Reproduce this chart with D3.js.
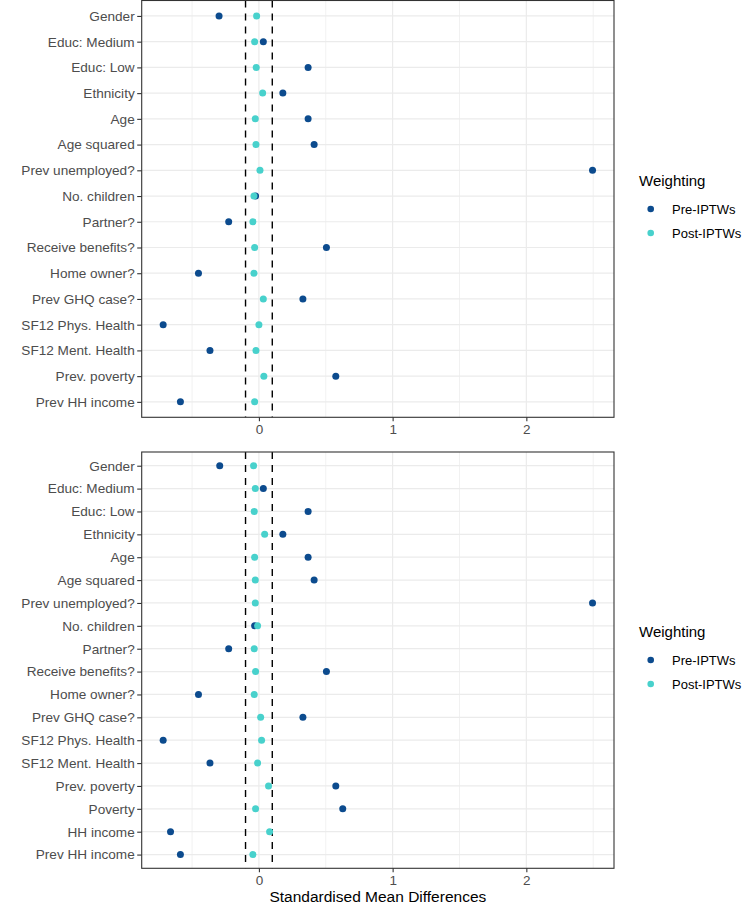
<!DOCTYPE html>
<html>
<head>
<meta charset="utf-8">
<script src="https://cdn.jsdelivr.net/npm/d3@7"></script>
<style>
  html, body { margin: 0; padding: 0; background: #ffffff; }
  svg { display: block; font-family: "Liberation Sans", Arial, sans-serif; }
</style>
</head>
<body>
<svg id="chart" width="756" height="904"></svg>
<script>
// ---------------- DATA ----------------
const categoriesTop = ["Gender", "Educ: Medium", "Educ: Low", "Ethnicity", "Age", "Age squared",
  "Prev unemployed?", "No. children", "Partner?", "Receive benefits?", "Home owner?",
  "Prev GHQ case?", "SF12 Phys. Health", "SF12 Ment. Health", "Prev. poverty", "Prev HH income"];
const preTop  = [-0.298, 0.033, 0.368, 0.179, 0.368, 0.413, 2.495, -0.025, -0.226, 0.505, -0.452,
  0.329, -0.716, -0.366, 0.575, -0.587];
const postTop = [-0.017, -0.032, -0.020, 0.028, -0.027, -0.022, 0.008, -0.037, -0.045, -0.032, -0.037,
  0.033, 0.000, -0.022, 0.037, -0.032];

const categoriesBottom = ["Gender", "Educ: Medium", "Educ: Low", "Ethnicity", "Age", "Age squared",
  "Prev unemployed?", "No. children", "Partner?", "Receive benefits?", "Home owner?",
  "Prev GHQ case?", "SF12 Phys. Health", "SF12 Ment. Health", "Prev. poverty", "Poverty",
  "HH income", "Prev HH income"];
const preBottom  = [-0.293, 0.033, 0.368, 0.179, 0.368, 0.413, 2.495, -0.032, -0.226, 0.505, -0.452,
  0.329, -0.716, -0.366, 0.575, 0.627, -0.661, -0.587];
const postBottom = [-0.040, -0.027, -0.035, 0.043, -0.032, -0.027, -0.027, -0.010, -0.035, -0.025, -0.035,
  0.013, 0.020, -0.010, 0.072, -0.025, 0.080, -0.045];

const seriesNames = ["Pre-IPTWs", "Post-IPTWs"];
const seriesColors = ["#0C4B8E", "#48D1CC"];
const xTickValues = [0, 1, 2];
const xMinorValues = [-0.5, 0.5, 1.5, 2.5];
const thresholds = [-0.1, 0.1];
const legendTitle = "Weighting";
const xAxisTitle = "Standardised Mean Differences";

// ---------------- LAYOUT ----------------
const svg = d3.select("#chart");
const plotLeft = 141.7, plotRight = 614;
const panels = [
  { cats: categoriesTop, pre: preTop, post: postTop, top: 0.5, bottom: 417.3, legendCenter: 207 },
  { cats: categoriesBottom, pre: preBottom, post: postBottom, top: 452, bottom: 868.3, legendCenter: 658 }
];

const allVals = [].concat(preTop, postTop, preBottom, postBottom);
const vmin = d3.min(allVals), vmax = d3.max(allVals);
const pad = (vmax - vmin) * 0.05;
const x = d3.scaleLinear().domain([vmin - pad, vmax + pad]).range([plotLeft, plotRight]);

const grey20 = "#333333", grey30 = "#4D4D4D", grid = "#EBEBEB";

panels.forEach(p => {
  const y = d3.scalePoint().domain(p.cats).range([p.top, p.bottom]).padding(0.6);
  const g = svg.append("g");

  // minor grid
  g.selectAll(".minor").data(xMinorValues).join("line")
    .attr("x1", d => x(d)).attr("x2", d => x(d))
    .attr("y1", p.top).attr("y2", p.bottom)
    .attr("stroke", grid).attr("stroke-width", 0.7);
  // major grid vertical
  g.selectAll(".majorx").data(xTickValues).join("line")
    .attr("x1", d => x(d)).attr("x2", d => x(d))
    .attr("y1", p.top).attr("y2", p.bottom)
    .attr("stroke", grid).attr("stroke-width", 1.2);
  // major grid horizontal
  g.selectAll(".majory").data(p.cats).join("line")
    .attr("x1", plotLeft).attr("x2", plotRight)
    .attr("y1", d => y(d)).attr("y2", d => y(d))
    .attr("stroke", grid).attr("stroke-width", 1.2);

  // threshold dashed lines
  g.selectAll(".thr").data(thresholds).join("line")
    .attr("x1", d => x(d)).attr("x2", d => x(d))
    .attr("y1", p.top).attr("y2", p.bottom)
    .attr("stroke", "#000").attr("stroke-width", 1.4)
    .attr("stroke-dasharray", "7,6");

  // points: pre first then post
  const series = [p.pre, p.post];
  series.forEach((vals, si) => {
    g.append("g").selectAll("circle").data(p.cats.map((c, i) => ({ c, v: vals[i] }))).join("circle")
      .attr("cx", d => x(d.v)).attr("cy", d => y(d.c))
      .attr("r", 3.5).attr("fill", seriesColors[si]);
  });

  // panel border
  g.append("rect").attr("x", plotLeft).attr("y", p.top)
    .attr("width", plotRight - plotLeft).attr("height", p.bottom - p.top)
    .attr("fill", "none").attr("stroke", grey20).attr("stroke-width", 1.1);

  // y axis
  const yAxis = d3.axisLeft(y).tickSize(4.5).tickPadding(2.5);
  const ya = g.append("g").attr("transform", `translate(${plotLeft},0)`).call(yAxis);
  ya.select(".domain").remove();
  ya.selectAll(".tick line").attr("stroke", grey20).attr("stroke-width", 1.1);
  ya.selectAll(".tick text").attr("fill", grey30).style("font-size", "13.6px")
    .style("font-family", "'Liberation Sans', Arial, sans-serif");

  // x axis
  const xAxis = d3.axisBottom(x).tickValues(xTickValues).tickFormat(d3.format("d")).tickSize(4).tickPadding(3);
  const xa = g.append("g").attr("transform", `translate(0,${p.bottom})`).call(xAxis);
  xa.select(".domain").remove();
  xa.selectAll(".tick line").attr("stroke", grey20).attr("stroke-width", 1.1);
  xa.selectAll(".tick text").attr("fill", grey30).style("font-size", "13.5px")
    .style("font-family", "'Liberation Sans', Arial, sans-serif");

  // legend
  const lg = svg.append("g");
  lg.append("text").attr("x", 639).attr("y", p.legendCenter - 26).attr("dy", "0.35em")
    .style("font-size", "15px").attr("fill", "#000").text(legendTitle);
  seriesNames.forEach((nm, i) => {
    const cy = p.legendCenter + 2 + i * 24;
    lg.append("circle").attr("cx", 650.7).attr("cy", cy).attr("r", 3.3).attr("fill", seriesColors[i]);
    lg.append("text").attr("x", 672).attr("y", cy).attr("dy", "0.35em")
      .style("font-size", "13px").attr("fill", "#000").text(nm);
  });
});

// x axis title
svg.append("text").attr("x", (plotLeft + plotRight) / 2).attr("y", 897).attr("dy", "0.35em")
  .attr("text-anchor", "middle").style("font-size", "15.5px").attr("fill", "#000").text(xAxisTitle);
</script>
</body>
</html>
